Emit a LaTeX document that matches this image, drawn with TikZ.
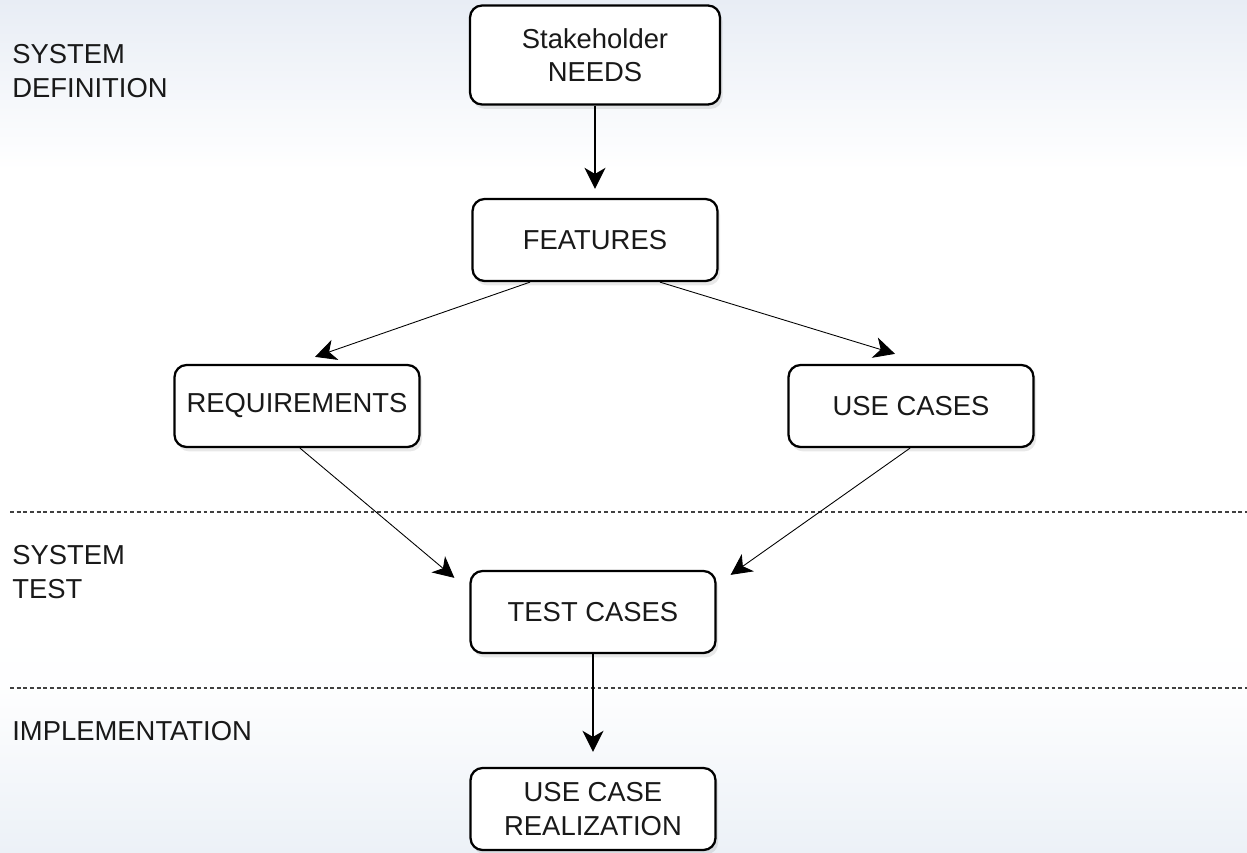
\documentclass[tikz,border=0pt]{standalone}
\usepackage{fontspec}
\setmainfont{Liberation Sans}
\usetikzlibrary{arrows.meta, shadows}

\definecolor{bandtop}{RGB}{232,237,245}
\definecolor{bandbot}{RGB}{236,241,247}

\begin{document}
\begin{tikzpicture}[x=0.02cm, y=-0.02cm]
		\tikzstyle{Box} = [rectangle, rounded corners=0.24cm, minimum width=4.9cm, minimum height=1.64cm, align=center, text=black!90, draw=black, line width=1.3pt, fill=white, drop shadow={shadow xshift=1.5pt, shadow yshift=-2.5pt, opacity=0.18}]
		\tikzstyle{Phase} = [anchor=west, inner sep=0pt, align=left, text=black!90]
		\tikzstyle{arrow} = [line width=0.9pt, -{Stealth[length=12pt, width=12pt, inset=3.5pt]}]
		\tikzstyle{thinarrow} = [line width=0.5pt, -{Stealth[length=12pt, width=12pt, inset=3.5pt]}]
		\tikzstyle{border} = [black!75, line width=0.6pt, dash pattern=on 2.2pt off 1.6pt]
		\fontsize{15.6}{19}\selectfont

		\useasboundingbox (0,0) rectangle (1247,852);
		% background bands
		\shade[top color=bandtop, bottom color=white] (0,0) rectangle (1247,170);
		\shade[top color=white, bottom color=white!96!bandtop] (0,600) rectangle (1247,688);
		\shade[top color=white!94!bandtop, bottom color=bandbot] (0,688) rectangle (1247,852);

		%\draw[step=50,gray,very thin] (0,0) grid (1247,852);

		\draw[border] (10,512) -- (1247,512);
		\draw[border] (10,688) -- (1247,688);

		\node (def) [Phase] at (12,71) {SYSTEM\\DEFINITION};
		\node (tst) [Phase] at (12,572) {SYSTEM\\TEST};
		\node (impl) [Phase] at (12,731) {IMPLEMENTATION};

		\node (needs) [Box, minimum width=5cm, minimum height=1.98cm] at (595,55) {Stakeholder\\NEEDS};
		\node (feat) [Box] at (595,240) {FEATURES};
		\node (req) [Box] at (297,406) {REQUIREMENTS};
		\node (uc) [Box] at (911,406) {USE CASES};
		\node (test) [Box] at (593,612) {TEST CASES};
		\node (real) [Box] at (593,809) {USE CASE\\REALIZATION};

		\draw[arrow, shorten >=0.18cm] (needs) -- (feat);
		\draw[thinarrow] ([xshift=-1.3cm]feat.south) -- ([xshift=0.36cm, yshift=0.14cm]req.north);
		\draw[thinarrow] ([xshift=1.3cm]feat.south) -- ([xshift=-0.32cm, yshift=0.2cm]uc.north);
		\draw[thinarrow] ([xshift=0.06cm]req.south) -- ([xshift=-0.3cm, yshift=-0.16cm]test.north west);
		\draw[thinarrow] ([xshift=-0.02cm]uc.south) -- ([xshift=0.28cm, yshift=-0.1cm]test.north east);
		\draw[arrow, shorten >=0.3cm] (test) -- (real);
\end{tikzpicture}
\end{document}
